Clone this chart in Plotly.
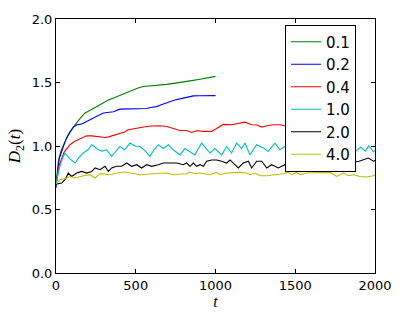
import plotly.graph_objects as go

# ---- data ----
labels = ["0.1", "0.2", "0.4", "1.0", "2.0", "4.0"]
colors = ["#008000", "#0000ff", "#ff0000", "#00bfbf", "#000000", "#bfbf00"]

t_01 = [0, 15, 30, 46, 70, 95, 119, 150, 182, 220, 255, 290, 328, 365, 401, 440, 474, 510, 547, 590, 631, 694, 750, 798, 850, 903, 950, 1000]
d_01 = [0.70, 0.88, 0.96, 1.01, 1.07, 1.12, 1.167, 1.215, 1.26, 1.285, 1.31, 1.335, 1.363, 1.38, 1.40, 1.42, 1.44, 1.455, 1.468, 1.472, 1.48, 1.485, 1.495, 1.507, 1.515, 1.526, 1.535, 1.548]

t_02 = [0, 20, 46, 65, 88, 110, 130, 150, 171, 200, 234, 265, 297, 330, 360, 401, 440, 485, 530, 568, 600, 631, 660, 694, 740, 798, 830, 861, 900, 950, 1000]
d_02 = [0.67, 0.90, 0.996, 1.06, 1.114, 1.15, 1.167, 1.17, 1.18, 1.20, 1.22, 1.24, 1.26, 1.265, 1.27, 1.29, 1.292, 1.293, 1.293, 1.295, 1.305, 1.31, 1.325, 1.342, 1.36, 1.377, 1.388, 1.395, 1.396, 1.395, 1.397]

t_04 = [0, 20, 50, 88, 115, 140, 165, 192, 225, 255, 280, 307, 330, 349, 375, 401, 430, 453, 480, 506, 540, 568, 600, 631, 652, 694, 735, 777, 819, 851, 882, 924, 976, 1007, 1049, 1101, 1143, 1185, 1227, 1258, 1290, 1321, 1363, 1404, 1435, 1470, 1500]
d_04 = [0.70, 0.85, 0.95, 1.01, 1.035, 1.05, 1.065, 1.08, 1.08, 1.075, 1.07, 1.067, 1.072, 1.08, 1.09, 1.096, 1.11, 1.128, 1.135, 1.14, 1.148, 1.153, 1.157, 1.16, 1.16, 1.153, 1.14, 1.122, 1.122, 1.107, 1.12, 1.115, 1.115, 1.14, 1.17, 1.167, 1.175, 1.188, 1.167, 1.165, 1.149, 1.16, 1.167, 1.167, 1.16, 1.15, 1.16]

t_10 = [0, 20, 40, 56, 85, 119, 145, 171, 200, 224, 245, 265, 290, 318, 349, 375, 401, 430, 464, 495, 527, 560, 589, 615, 641, 673, 704, 735, 777, 809, 840, 871, 913, 945, 965, 997, 1039, 1070, 1101, 1133, 1164, 1185, 1216, 1258, 1300, 1330, 1373, 1404, 1435, 1470, 1510, 1550, 1590, 1630, 1670, 1710, 1750, 1790, 1830, 1870, 1910, 1940, 1960, 1975, 1990, 2000]
d_10 = [0.70, 0.82, 0.90, 0.945, 0.90, 0.866, 0.91, 0.945, 0.97, 1.01, 0.99, 0.97, 0.96, 0.97, 0.918, 0.96, 0.996, 0.97, 1.023, 1.00, 0.996, 0.96, 0.918, 0.97, 1.01, 0.98, 1.01, 0.97, 0.93, 0.98, 0.957, 0.93, 1.023, 0.98, 0.945, 0.98, 0.93, 0.996, 0.945, 1.023, 0.98, 1.023, 0.93, 1.01, 0.985, 0.957, 1.023, 0.97, 0.996, 0.96, 1.0, 0.95, 1.01, 0.96, 0.99, 0.94, 1.0, 0.96, 1.01, 0.95, 0.99, 0.96, 1.0, 0.98, 0.955, 0.965]

t_20 = [0, 36, 60, 77, 98, 130, 161, 192, 224, 245, 276, 307, 328, 349, 380, 412, 443, 474, 506, 537, 568, 600, 641, 673, 715, 757, 798, 819, 840, 861, 882, 903, 924, 945, 976, 1007, 1039, 1070, 1091, 1122, 1143, 1174, 1206, 1227, 1258, 1290, 1321, 1352, 1394, 1435, 1470, 1500, 1550, 1600, 1650, 1700, 1750, 1800, 1850, 1900, 1958, 1990, 2000]
d_20 = [0.70, 0.709, 0.74, 0.787, 0.76, 0.787, 0.80, 0.787, 0.80, 0.827, 0.813, 0.84, 0.80, 0.827, 0.84, 0.84, 0.866, 0.84, 0.853, 0.827, 0.853, 0.84, 0.853, 0.866, 0.866, 0.866, 0.853, 0.866, 0.84, 0.866, 0.84, 0.853, 0.84, 0.88, 0.89, 0.89, 0.88, 0.866, 0.89, 0.853, 0.827, 0.866, 0.88, 0.827, 0.88, 0.88, 0.827, 0.853, 0.827, 0.853, 0.84, 0.85, 0.86, 0.87, 0.865, 0.88, 0.86, 0.89, 0.87, 0.88, 0.905, 0.88, 0.885]

t_40 = [0, 25, 67, 88, 119, 171, 213, 245, 276, 339, 380, 433, 464, 527, 610, 694, 735, 819, 840, 871, 903, 965, 1007, 1028, 1070, 1112, 1153, 1196, 1216, 1248, 1279, 1321, 1384, 1425, 1456, 1477, 1508, 1530, 1571, 1655, 1718, 1760, 1801, 1833, 1864, 1906, 1948, 1990, 2000]
d_40 = [0.70, 0.735, 0.748, 0.76, 0.748, 0.766, 0.774, 0.748, 0.782, 0.774, 0.787, 0.795, 0.787, 0.774, 0.782, 0.787, 0.774, 0.782, 0.795, 0.782, 0.787, 0.774, 0.792, 0.774, 0.787, 0.792, 0.792, 0.787, 0.774, 0.787, 0.766, 0.766, 0.774, 0.782, 0.792, 0.774, 0.792, 0.774, 0.787, 0.792, 0.792, 0.76, 0.787, 0.766, 0.774, 0.76, 0.756, 0.766, 0.77]

x_ticks = [0, 500, 1000, 1500, 2000]
y_ticks = [0.0, 0.5, 1.0, 1.5, 2.0]
x_ticklabels = ["0", "500", "1000", "1500", "2000"]
y_ticklabels = ["0.0", "0.5", "1.0", "1.5", "2.0"]

series = [(t_01, d_01), (t_02, d_02), (t_04, d_04), (t_10, d_10), (t_20, d_20), (t_40, d_40)]

fig = go.Figure()
for (tx, dy), name, col in zip(series, labels, colors):
    fig.add_trace(go.Scatter(x=tx, y=dy, mode="lines", name=name,
                             line=dict(color=col, width=1.1)))

W, H = 399, 319
L, R, T, B = 56, 24, 19, 46

axis_common = dict(showline=True, linecolor="black", linewidth=1, mirror="allticks",
                   ticks="inside", ticklen=4, tickcolor="black", tickwidth=1,
                   showgrid=False, zeroline=False, automargin=False,
                   tickfont=dict(family="DejaVu Sans", size=13, color="black"))

fig.update_layout(
    width=W, height=H,
    margin=dict(l=L, r=R, t=T, b=B, pad=0),
    paper_bgcolor="white", plot_bgcolor="white",
    xaxis=dict(range=[0, 2000], tickvals=x_ticks, ticktext=x_ticklabels,
               title=dict(text="<i>t</i>", font=dict(family="Liberation Serif", size=16, color="black"), standoff=2),
               **axis_common),
    yaxis=dict(range=[0, 2], tickvals=y_ticks, ticktext=y_ticklabels,
               title=dict(text="<i>D</i><sub>2</sub>(<i>t</i>)", font=dict(family="Liberation Serif", size=17, color="black"), standoff=6),
               **axis_common),
    legend=dict(x=(285 - L) / (W - L - R), y=(273.5 - 25) / (H - T - B),
                xanchor="left", yanchor="top",
                bgcolor="white", bordercolor="black", borderwidth=1,
                font=dict(family="DejaVu Sans", size=15, color="black"),
                tracegroupgap=0),
    showlegend=True,
)

fig.write_html("out.html", config={"displayModeBar": False},
               post_script="document.body.style.margin='0';")
